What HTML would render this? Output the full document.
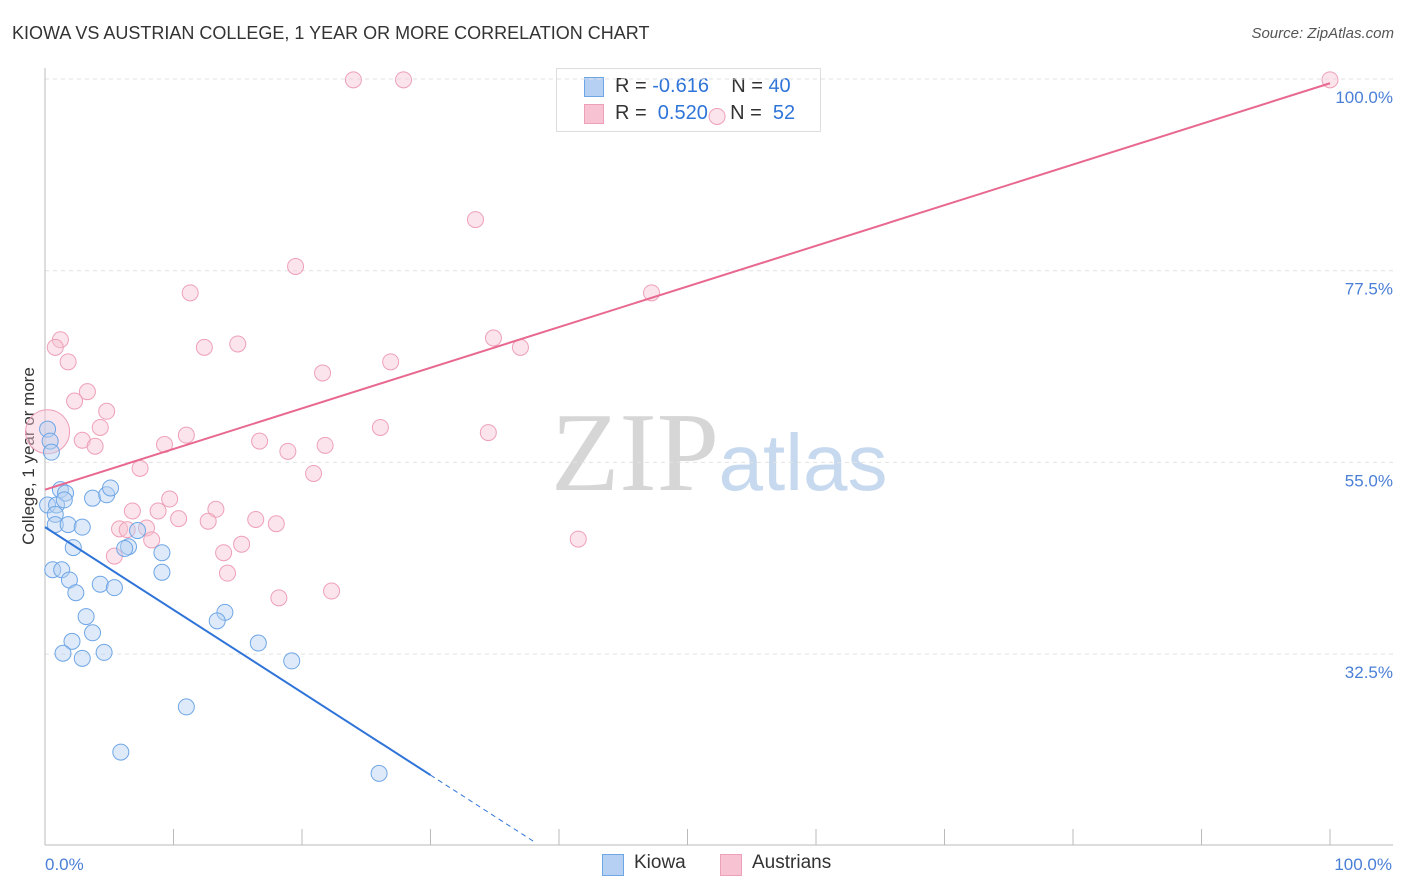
<!DOCTYPE html>
<html><head><meta charset="utf-8"><style>
body{margin:0;background:#fff;font-family:"Liberation Sans",sans-serif;}
#wrap{position:relative;width:1406px;height:892px;overflow:hidden}
.t{position:absolute;white-space:nowrap}
</style></head><body><div id="wrap">
<div class="t" style="left:12px;top:23px;font-size:18px;color:#333">KIOWA VS AUSTRIAN COLLEGE, 1 YEAR OR MORE CORRELATION CHART</div>
<div class="t" style="right:12px;top:25px;font-size:15px;color:#555;font-style:italic">Source: ZipAtlas.com</div>
<div style="position:absolute;left:556px;top:68px;width:263px;height:62px;border:1px solid #ddd;background:#fff;font-size:20px;color:#333">
 <div style="position:absolute;left:27px;top:8px;width:18px;height:18px;background:#b5d0f2;border:1px solid #6ea6e6"></div>
 <div class="t" style="left:58px;top:6px">R = <span style="color:#2f74d8">-0.616</span>&nbsp;&nbsp;&nbsp; N = <span style="color:#2f74d8">40</span></div>
 <div style="position:absolute;left:27px;top:35px;width:18px;height:18px;background:#f7c3d3;border:1px solid #eea0b8"></div>
 <div class="t" style="left:58px;top:33px">R = &nbsp;<span style="color:#2f74d8">0.520</span>&nbsp;&nbsp;&nbsp; N = &nbsp;<span style="color:#2f74d8">52</span></div>
</div>
<svg id="svg" width="1406" height="892" style="position:absolute;left:0;top:0"></svg>
</div>
<script>
const yTicks=[100,77.5,55,32.5];
const xTickLabels=["0.0%","100.0%"];
const kiowaX=[0.2,0.4,0.5,0.2,0.9,1.2,1.6,1.5,0.8,0.8,1.8,2.9,3.7,4.8,5.1,7.2,2.2,6.5,6.2,9.1,0.6,1.3,1.9,2.4,4.3,5.4,9.1,3.2,3.7,2.1,1.4,2.9,4.6,14.0,13.4,16.6,19.2,11.0,5.9,26.0];
const kiowaY=[58.9,57.5,56.2,50.0,50.0,51.8,51.4,50.6,48.9,47.7,47.7,47.4,50.8,51.2,52.0,47.0,45.0,45.1,44.9,44.4,42.4,42.4,41.2,39.7,40.7,40.3,42.1,36.9,35.0,34.0,32.6,32.0,32.7,37.4,36.4,33.8,31.7,26.3,21.0,18.5];
const austX=[0.2,24.0,27.9,100,52.3,33.5,19.5,11.3,47.2,1.2,0.8,12.4,15.0,34.9,37.0,1.8,26.9,21.6,3.3,2.3,4.8,4.3,26.1,34.5,11.0,16.7,21.8,2.9,3.9,9.3,18.9,7.4,20.9,9.7,13.3,6.8,8.8,10.4,16.4,12.7,18.0,5.8,6.4,7.9,8.3,15.3,41.5,5.4,13.9,14.2,18.2,22.3];
const austY=[58.6,99.9,99.9,99.9,95.6,83.5,78.0,74.9,74.9,69.4,68.5,68.5,68.9,69.6,68.5,66.8,66.8,65.5,63.3,62.2,61.0,59.1,59.1,58.5,58.2,57.5,57.0,57.6,56.9,57.1,56.3,54.3,53.7,50.7,49.5,49.3,49.3,48.4,48.3,48.1,47.8,47.2,47.1,47.3,45.9,45.4,46.0,44.0,44.4,42.0,39.1,39.9];
const kiowaFit=[47.4,-0.97]; // intercept, slope
const austFit=[51.8,0.477];
const X=v=>45+v*12.85, Y=v=>931-v*8.52;
const s=document.getElementById('svg'),NS="http://www.w3.org/2000/svg";
function el(t,a,p){const e=document.createElementNS(NS,t);for(const k in a)e.setAttribute(k,a[k]);(p||s).appendChild(e);return e;}
let w=el('text',{x:635,y:490,'font-size':112,fill:'#d6d6d6','font-family':'Liberation Serif',"text-anchor":"middle"});w.textContent="ZIP";


let w2=el('text',{x:803,y:490,'font-size':80,fill:'#c7d9ef','font-family':'Liberation Sans',"text-anchor":"middle"});w2.textContent="atlas";


yTicks.forEach(v=>{
 const g=el('line',{x1:45,x2:1393,y1:Y(v),y2:Y(v),stroke:'#e2e2e2','stroke-dasharray':'4,4'});
 
 
 const t=el('text',{x:1393,y:Y(v)+24,'font-size':17,fill:'#4a7fd6','text-anchor':'end'});t.textContent=v.toFixed(1)+"%";
 
 
});
el('line',{x1:45,x2:45,y1:68,y2:845,stroke:'#bbb'});
el('line',{x1:45,x2:1393,y1:845,y2:845,stroke:'#bbb'});
for(let i=0;i<=10;i++){const tk=el('line',{x1:X(i*10),x2:X(i*10),y1:829,y2:845,stroke:'#bbb'});
 
 }
[[0,'start'],[100,'end']].forEach((p,i)=>{const t=el('text',{x:X(p[0])+(i?62:0),y:870,'font-size':17,fill:'#4a7fd6','text-anchor':p[1]});t.textContent=xTickLabels[i];
 
 });
let yt=el('text',{x:0,y:0,'font-size':17,fill:'#333','text-anchor':'middle',transform:'translate(34,456) rotate(-90)'});yt.textContent="College, 1 year or more";


function pts(xs,ys,st,fi,name){xs.forEach((x,i)=>{const c=el('circle',{cx:X(x),cy:Y(ys[i]),r:(name=='austrians-point'&&i==0)?22:8,fill:fi,'fill-opacity':0.45,stroke:st,'stroke-width':1});
 
 });}
pts(austX,austY,'#eea0b8','#f7c3d3','austrians-point');
pts(kiowaX,kiowaY,'#6ea6e6','#b5d0f2','kiowa-point');
let f=v=>kiowaFit[0]+kiowaFit[1]*v;
let l1=el('line',{x1:X(0),y1:Y(f(0)),x2:X(30),y2:Y(f(30)),stroke:'#2f74d8','stroke-width':2});


el('line',{x1:X(30),y1:Y(f(30)),x2:X(38.2),y2:Y(f(38.2)),stroke:'#2f74d8','stroke-width':1,'stroke-dasharray':'5,4'});
let g2=v=>austFit[0]+austFit[1]*v;
let l2=el('line',{x1:X(0),y1:Y(g2(0)),x2:X(100),y2:Y(g2(100)),stroke:'#e8698f','stroke-width':2});


</script>
<div style="position:absolute;left:602px;top:852px;font-size:19px;color:#333">
 <div style="position:absolute;left:0;top:2px;width:20px;height:20px;background:#b5d0f2;border:1px solid #6ea6e6"></div>
 <div class="t" style="left:32px;top:0">Kiowa</div>
 <div style="position:absolute;left:118px;top:2px;width:20px;height:20px;background:#f7c3d3;border:1px solid #eea0b8"></div>
 <div class="t" style="left:150px;top:0">Austrians</div>
</div>
</body></html>
